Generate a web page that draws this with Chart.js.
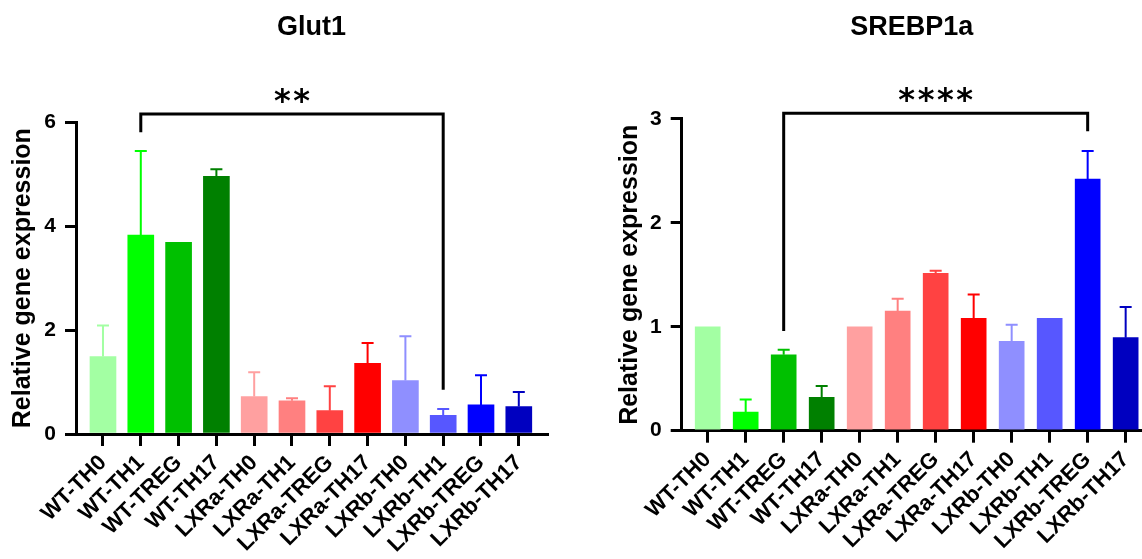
<!DOCTYPE html>
<html>
<head>
<meta charset="utf-8">
<script src="https://cdn.jsdelivr.net/npm/chart.js@4.4.1/dist/chart.umd.min.js"></script>
<style>
  html, body { margin: 0; padding: 0; background: #fff; }
  #wrap { position: relative; width: 1142px; height: 559px; overflow: hidden; }
  .box { position: absolute; top: 0; width: 571px; height: 559px; }
</style>
</head>
<body>
<div id="wrap">
  <div class="box" style="left:0"><canvas id="glut1" width="571" height="559"></canvas></div>
  <div class="box" style="left:571px"><canvas id="srebp" width="571" height="559"></canvas></div>
</div>
<script>
// --- DATA ---
const groups = ["WT-TH0", "WT-TH1", "WT-TREG", "WT-TH17",
                "LXRa-TH0", "LXRa-TH1", "LXRa-TREG", "LXRa-TH17",
                "LXRb-TH0", "LXRb-TH1", "LXRb-TREG", "LXRb-TH17"];
const barColors = ["#a3ffa3", "#00ff00", "#00c000", "#008000",
                   "#ffa0a0", "#ff8080", "#ff4242", "#ff0000",
                   "#8f8fff", "#5757ff", "#0000ff", "#0000c0"];

const glut1Mean = [1.49, 3.83, 3.69, 4.96, 0.72, 0.64, 0.45, 1.36, 1.03, 0.36, 0.56, 0.53];
const glut1Err  = [0.60, 1.62, 0,    0.14, 0.47, 0.05, 0.47, 0.39, 0.85, 0.12, 0.57, 0.28];
const glut1Ticks = [0, 2, 4, 6];
const glut1Sig = { from: 1, to: 9, top: 6.16, leftEnd: 5.81, rightEnd: 0.85, stars: "**", at: 5 };

const srebpMean = [1.00, 0.18, 0.73, 0.32, 1.00, 1.15, 1.515, 1.08, 0.86, 1.08, 2.42, 0.895];
const srebpErr  = [0,    0.12, 0.05, 0.11, 0,    0.12, 0.025, 0.23, 0.16, 0,    0.27, 0.295];
const srebpTicks = [0, 1, 2, 3];
const srebpSig = { from: 2, to: 10, top: 3.055, leftEnd: 0.96, rightEnd: 2.88, stars: "****", at: 6 };

const FONT = "'Liberation Sans', Arial, sans-serif";

// --- error bars + significance bracket ---
const extrasPlugin = {
  id: "extras",
  afterDatasetsDraw(chart, args, opts) {
    const { ctx, scales: { x, y } } = chart;
    ctx.save();
    ctx.lineWidth = 2;
    opts.err.forEach((e, i) => {
      if (!e) return;
      const px = x.getPixelForValue(i);
      const y0 = y.getPixelForValue(opts.mean[i]);
      const y1 = y.getPixelForValue(opts.mean[i] + e);
      ctx.strokeStyle = barColors[i];
      ctx.beginPath();
      ctx.moveTo(px, y0);
      ctx.lineTo(px, y1);
      ctx.moveTo(px - 6, y1);
      ctx.lineTo(px + 6, y1);
      ctx.stroke();
    });
    // bracket
    const s = opts.sig;
    const xl = x.getPixelForValue(s.from), xr = x.getPixelForValue(s.to);
    const yt = y.getPixelForValue(s.top);
    ctx.strokeStyle = "#000";
    ctx.lineWidth = 3;
    ctx.beginPath();
    ctx.moveTo(xl, y.getPixelForValue(s.leftEnd));
    ctx.lineTo(xl, yt);
    ctx.lineTo(xr, yt);
    ctx.lineTo(xr, y.getPixelForValue(s.rightEnd));
    ctx.stroke();
    // stars
    ctx.fillStyle = "#000";
    ctx.font = "bold 32px 'DejaVu Sans', sans-serif";
    ctx.textAlign = "center";
    ctx.textBaseline = "alphabetic";
    const m = ctx.measureText("*");
    const cy = yt - 19;
    const base = cy + (m.actualBoundingBoxAscent - m.actualBoundingBoxDescent) / 2;
    const n = s.stars.length, step = 19.3;
    const cx = x.getPixelForValue(s.at);
    for (let k = 0; k < n; k++) {
      ctx.fillText("*", cx + (k - (n - 1) / 2) * step, base);
    }
    ctx.restore();
  }
};

function makeChart(id, title, mean, err, ticks, sig, cfg) {
  return new Chart(document.getElementById(id), {
    type: "bar",
    data: {
      datasets: [{
        data: mean.map((v, i) => ({ x: i, y: v })),
        backgroundColor: barColors,
        borderWidth: 0,
        barThickness: cfg.barW
      }]
    },
    plugins: [extrasPlugin],
    options: {
      responsive: false,
      animation: false,
      layout: { padding: { left: 0, right: cfg.padRight, top: 0, bottom: 0 } },
      plugins: {
        legend: { display: false },
        tooltip: { enabled: false },
        title: {
          display: true,
          text: title,
          fullSize: false,
          color: "#000",
          font: { family: FONT, size: 27, weight: "bold" },
          padding: { top: 11, bottom: cfg.titleBottom }
        },
        extras: { mean: mean, err: err, sig: sig }
      },
      scales: {
        x: {
          type: "linear",
          min: cfg.xMin,
          max: cfg.xMax,
          offset: false,
          afterBuildTicks: s => { s.ticks = groups.map((_, i) => ({ value: i })); },
          afterFit: s => { s.height = cfg.xHeight; s.paddingLeft = 0; s.paddingRight = 0; },
          border: { display: true, color: "#000", width: 3 },
          grid: { display: true, offset: false, drawOnChartArea: false, drawTicks: true, tickLength: 12, color: "#000", lineWidth: 3 },
          ticks: {
            autoSkip: false,
            minRotation: 45,
            maxRotation: 45,
            padding: 4,
            color: "#000",
            font: { family: FONT, size: 22, weight: "bold" },
            callback: v => groups[v]
          }
        },
        y: {
          min: 0,
          max: ticks[ticks.length - 1],
          afterBuildTicks: s => { s.ticks = ticks.map(v => ({ value: v })); },
          afterFit: s => { s.width = cfg.yWidth; },
          border: { display: true, color: "#000", width: 3 },
          grid: { display: true, drawOnChartArea: false, drawTicks: true, tickLength: 11, color: "#000", lineWidth: 3 },
          ticks: {
            padding: 9,
            color: "#000",
            font: { family: FONT, size: 21, weight: "bold" }
          },
          title: {
            display: true,
            text: "Relative gene expression",
            color: "#000",
            font: { family: FONT, size: 25, weight: "bold" },
            padding: { top: cfg.yTitlePad, bottom: 0 }
          }
        }
      }
    }
  });
}

makeChart("glut1", "Glut1", glut1Mean, glut1Err, glut1Ticks, glut1Sig,
  { barW: 26, padRight: 24, titleBottom: 79, xMin: -0.714, xMax: 11.746, xHeight: 125, yWidth: 76, yTitlePad: 8 });
makeChart("srebp", "SREBP1a", srebpMean, srebpErr, srebpTicks, srebpSig,
  { barW: 25, padRight: 0, titleBottom: 75.5, xMin: -0.684, xMax: 11.43, xHeight: 128.3, yWidth: 110.7, yTitlePad: 44 });
</script>
</body>
</html>
